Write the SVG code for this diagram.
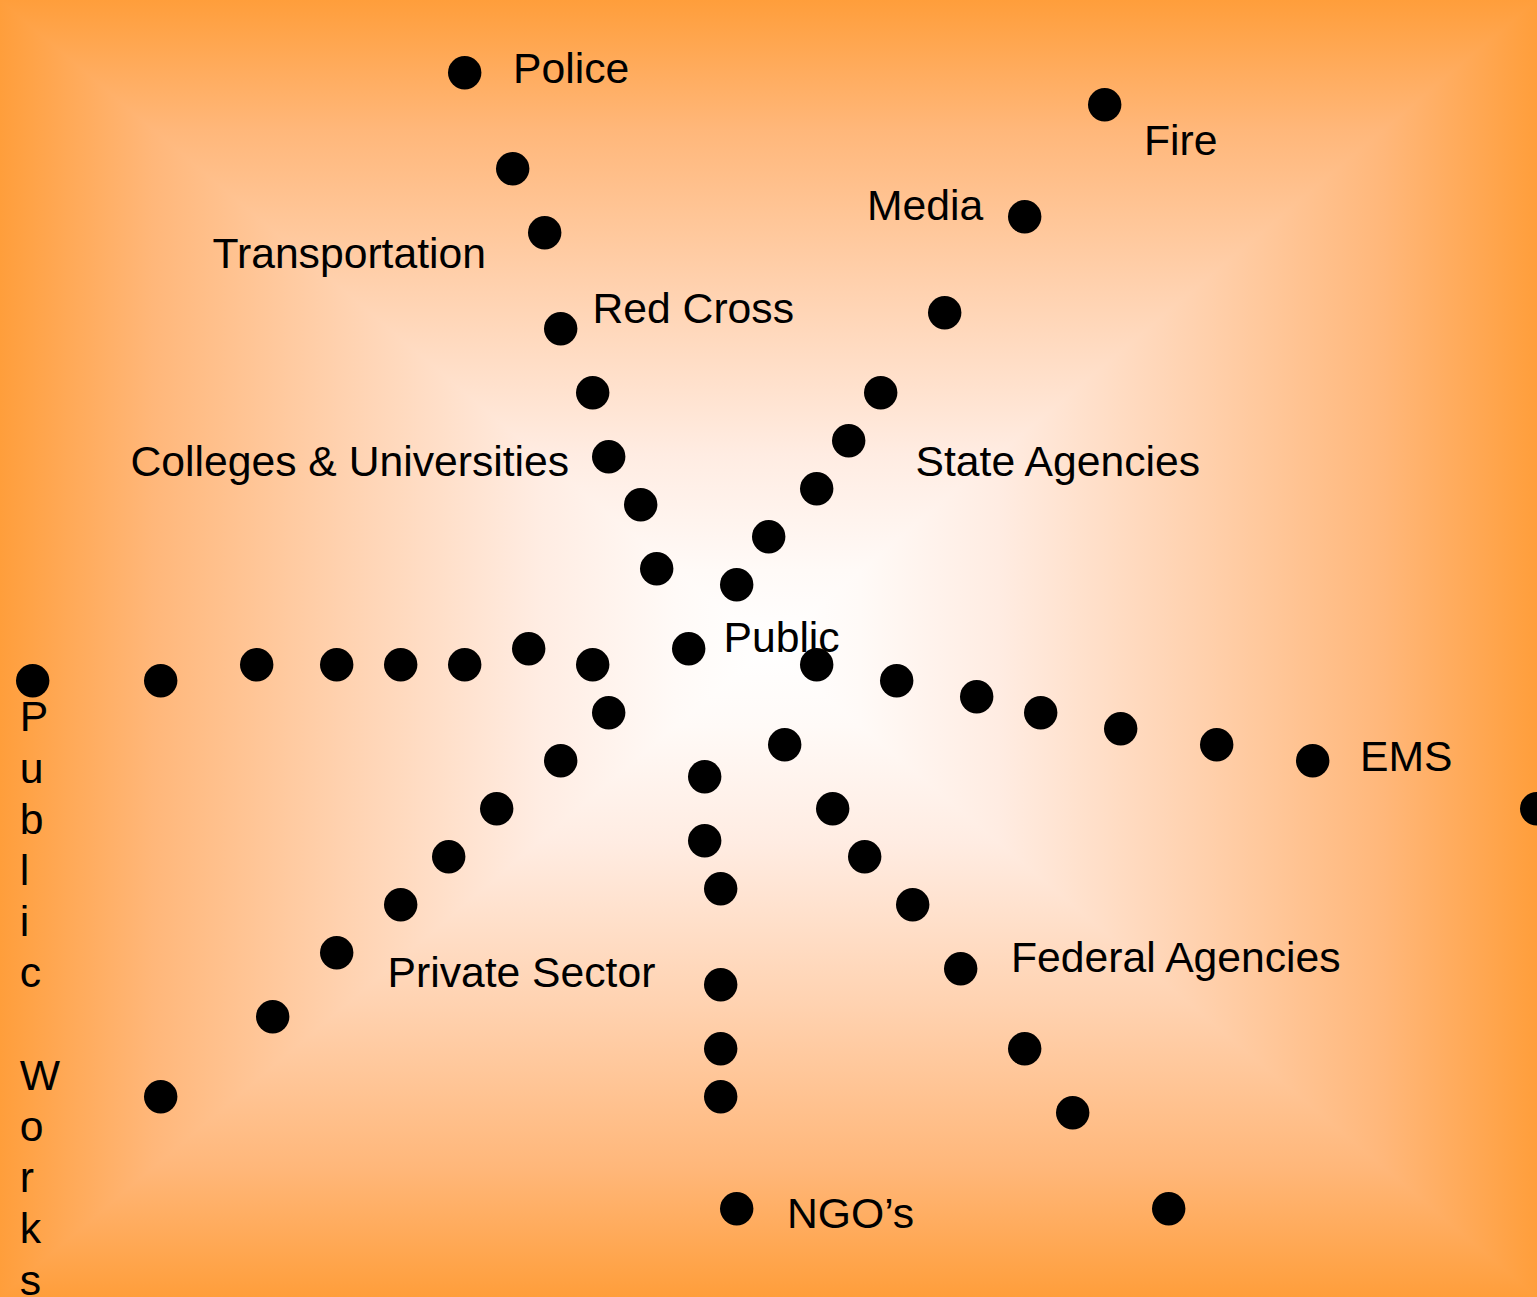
<svg xmlns="http://www.w3.org/2000/svg" width="1537" height="1297" viewBox="0 0 1537 1297">
  <style>
    .lbl { font-family: "Liberation Sans", Arial, sans-serif; font-size: 42.67px; fill: #000; }
    .dot { fill: #000; }
  </style>
  <defs>
    <linearGradient id="gv" gradientUnits="userSpaceOnUse" x1="0" y1="0" x2="0" y2="1297">
      <stop offset="0" stop-color="#FF9E3B"/>
      <stop offset="0.1" stop-color="#FFB77A"/>
      <stop offset="0.225" stop-color="#FFD2B0"/>
      <stop offset="0.35" stop-color="#FFECE2"/>
      <stop offset="0.44" stop-color="#FFFAF7"/>
      <stop offset="0.4996" stop-color="#FFFFFF"/>
      <stop offset="0.56" stop-color="#FFFAF7"/>
      <stop offset="0.65" stop-color="#FFECE2"/>
      <stop offset="0.775" stop-color="#FFD2B0"/>
      <stop offset="0.9" stop-color="#FFB77A"/>
      <stop offset="1" stop-color="#FF9E3B"/>
    </linearGradient>
    <linearGradient id="gl" gradientUnits="userSpaceOnUse" x1="0" y1="0" x2="768" y2="0">
      <stop offset="0" stop-color="#FF9E3B"/>
      <stop offset="0.2" stop-color="#FFB77A"/>
      <stop offset="0.45" stop-color="#FFD2B0"/>
      <stop offset="0.7" stop-color="#FFECE2"/>
      <stop offset="0.88" stop-color="#FFFAF7"/>
      <stop offset="1" stop-color="#FFFFFF"/>
    </linearGradient>
    <linearGradient id="gr" gradientUnits="userSpaceOnUse" x1="1537" y1="0" x2="768" y2="0">
      <stop offset="0" stop-color="#FF9E3B"/>
      <stop offset="0.2" stop-color="#FFB77A"/>
      <stop offset="0.45" stop-color="#FFD2B0"/>
      <stop offset="0.7" stop-color="#FFECE2"/>
      <stop offset="0.88" stop-color="#FFFAF7"/>
      <stop offset="1" stop-color="#FFFFFF"/>
    </linearGradient>
  </defs>

  <g id="background">
    <rect x="0" y="0" width="1537" height="1297" fill="url(#gv)"/>
    <polygon points="0,0 768,648 0,1297" fill="url(#gl)"/>
    <polygon points="1537,0 768,648 1537,1297" fill="url(#gr)"/>
  </g>

  <g id="labels">
    <text id="police" class="lbl" x="513" y="82.5">Police</text>
    <text id="fire" class="lbl" x="1144" y="155">Fire</text>
    <text id="media" class="lbl" x="867" y="220">Media</text>
    <text id="transportation" class="lbl" x="212.5" y="268">Transportation</text>
    <text id="redcross" class="lbl" x="592.5" y="322.7">Red Cross</text>
    <text id="colleges" class="lbl" x="130.5" y="476">Colleges &amp; Universities</text>
    <text id="state" class="lbl" x="915.5" y="476">State Agencies</text>
    <text id="public" class="lbl" x="723.5" y="652">Public</text>
    <text id="ems" class="lbl" x="1360" y="771">EMS</text>
    <text id="federal" class="lbl" x="1011" y="971.7">Federal Agencies</text>
    <text id="private" class="lbl" x="387.5" y="987.3">Private Sector</text>
    <text id="ngos" class="lbl" x="787" y="1227.7">NGO’s</text>
    <text id="publicworks" class="lbl">
      <tspan x="19.7" y="731.3">P</tspan>
      <tspan x="19.7" y="782.5">u</tspan>
      <tspan x="19.7" y="833.7">b</tspan>
      <tspan x="19.7" y="884.9">l</tspan>
      <tspan x="19.7" y="936.1">i</tspan>
      <tspan x="19.7" y="987.3">c</tspan>
      <tspan x="19.7" y="1089.7">W</tspan>
      <tspan x="19.7" y="1140.9">o</tspan>
      <tspan x="19.7" y="1192.1">r</tspan>
      <tspan x="19.7" y="1243.3">k</tspan>
      <tspan x="19.7" y="1294.5">s</tspan>
    </text>
  </g>

  <g id="dots">
    <circle class="dot" cx="464.7" cy="72.7" r="16.7"/>
    <circle class="dot" cx="1104.7" cy="104.7" r="16.7"/>
    <circle class="dot" cx="512.7" cy="168.7" r="16.7"/>
    <circle class="dot" cx="1024.7" cy="216.7" r="16.7"/>
    <circle class="dot" cx="544.7" cy="232.7" r="16.7"/>
    <circle class="dot" cx="944.7" cy="312.7" r="16.7"/>
    <circle class="dot" cx="560.7" cy="328.7" r="16.7"/>
    <circle class="dot" cx="592.7" cy="392.7" r="16.7"/>
    <circle class="dot" cx="880.7" cy="392.7" r="16.7"/>
    <circle class="dot" cx="848.7" cy="440.7" r="16.7"/>
    <circle class="dot" cx="608.7" cy="456.7" r="16.7"/>
    <circle class="dot" cx="640.7" cy="504.7" r="16.7"/>
    <circle class="dot" cx="816.7" cy="488.7" r="16.7"/>
    <circle class="dot" cx="768.7" cy="536.7" r="16.7"/>
    <circle class="dot" cx="656.7" cy="568.7" r="16.7"/>
    <circle class="dot" cx="736.7" cy="584.7" r="16.7"/>
    <circle class="dot" cx="688.7" cy="648.7" r="16.7"/>
    <circle class="dot" cx="528.7" cy="648.7" r="16.7"/>
    <circle class="dot" cx="32.7" cy="680.7" r="16.7"/>
    <circle class="dot" cx="160.7" cy="680.7" r="16.7"/>
    <circle class="dot" cx="256.7" cy="664.7" r="16.7"/>
    <circle class="dot" cx="336.7" cy="664.7" r="16.7"/>
    <circle class="dot" cx="400.7" cy="664.7" r="16.7"/>
    <circle class="dot" cx="464.7" cy="664.7" r="16.7"/>
    <circle class="dot" cx="592.7" cy="664.7" r="16.7"/>
    <circle class="dot" cx="816.7" cy="664.7" r="16.7"/>
    <circle class="dot" cx="896.7" cy="680.7" r="16.7"/>
    <circle class="dot" cx="976.7" cy="696.7" r="16.7"/>
    <circle class="dot" cx="1040.7" cy="712.7" r="16.7"/>
    <circle class="dot" cx="1120.7" cy="728.7" r="16.7"/>
    <circle class="dot" cx="1216.7" cy="744.7" r="16.7"/>
    <circle class="dot" cx="1312.7" cy="760.7" r="16.7"/>
    <circle class="dot" cx="1536.7" cy="808.7" r="16.7"/>
    <circle class="dot" cx="608.7" cy="712.7" r="16.7"/>
    <circle class="dot" cx="560.7" cy="760.7" r="16.7"/>
    <circle class="dot" cx="496.7" cy="808.7" r="16.7"/>
    <circle class="dot" cx="448.7" cy="856.7" r="16.7"/>
    <circle class="dot" cx="400.7" cy="904.7" r="16.7"/>
    <circle class="dot" cx="336.7" cy="952.7" r="16.7"/>
    <circle class="dot" cx="272.7" cy="1016.7" r="16.7"/>
    <circle class="dot" cx="160.7" cy="1096.7" r="16.7"/>
    <circle class="dot" cx="784.7" cy="744.7" r="16.7"/>
    <circle class="dot" cx="704.7" cy="776.7" r="16.7"/>
    <circle class="dot" cx="832.7" cy="808.7" r="16.7"/>
    <circle class="dot" cx="704.7" cy="840.7" r="16.7"/>
    <circle class="dot" cx="864.7" cy="856.7" r="16.7"/>
    <circle class="dot" cx="720.7" cy="888.7" r="16.7"/>
    <circle class="dot" cx="912.7" cy="904.7" r="16.7"/>
    <circle class="dot" cx="960.7" cy="968.7" r="16.7"/>
    <circle class="dot" cx="720.7" cy="984.7" r="16.7"/>
    <circle class="dot" cx="720.7" cy="1048.7" r="16.7"/>
    <circle class="dot" cx="1024.7" cy="1048.7" r="16.7"/>
    <circle class="dot" cx="720.7" cy="1096.7" r="16.7"/>
    <circle class="dot" cx="1072.7" cy="1112.7" r="16.7"/>
    <circle class="dot" cx="736.7" cy="1208.7" r="16.7"/>
    <circle class="dot" cx="1168.7" cy="1208.7" r="16.7"/>
  </g>
</svg>
